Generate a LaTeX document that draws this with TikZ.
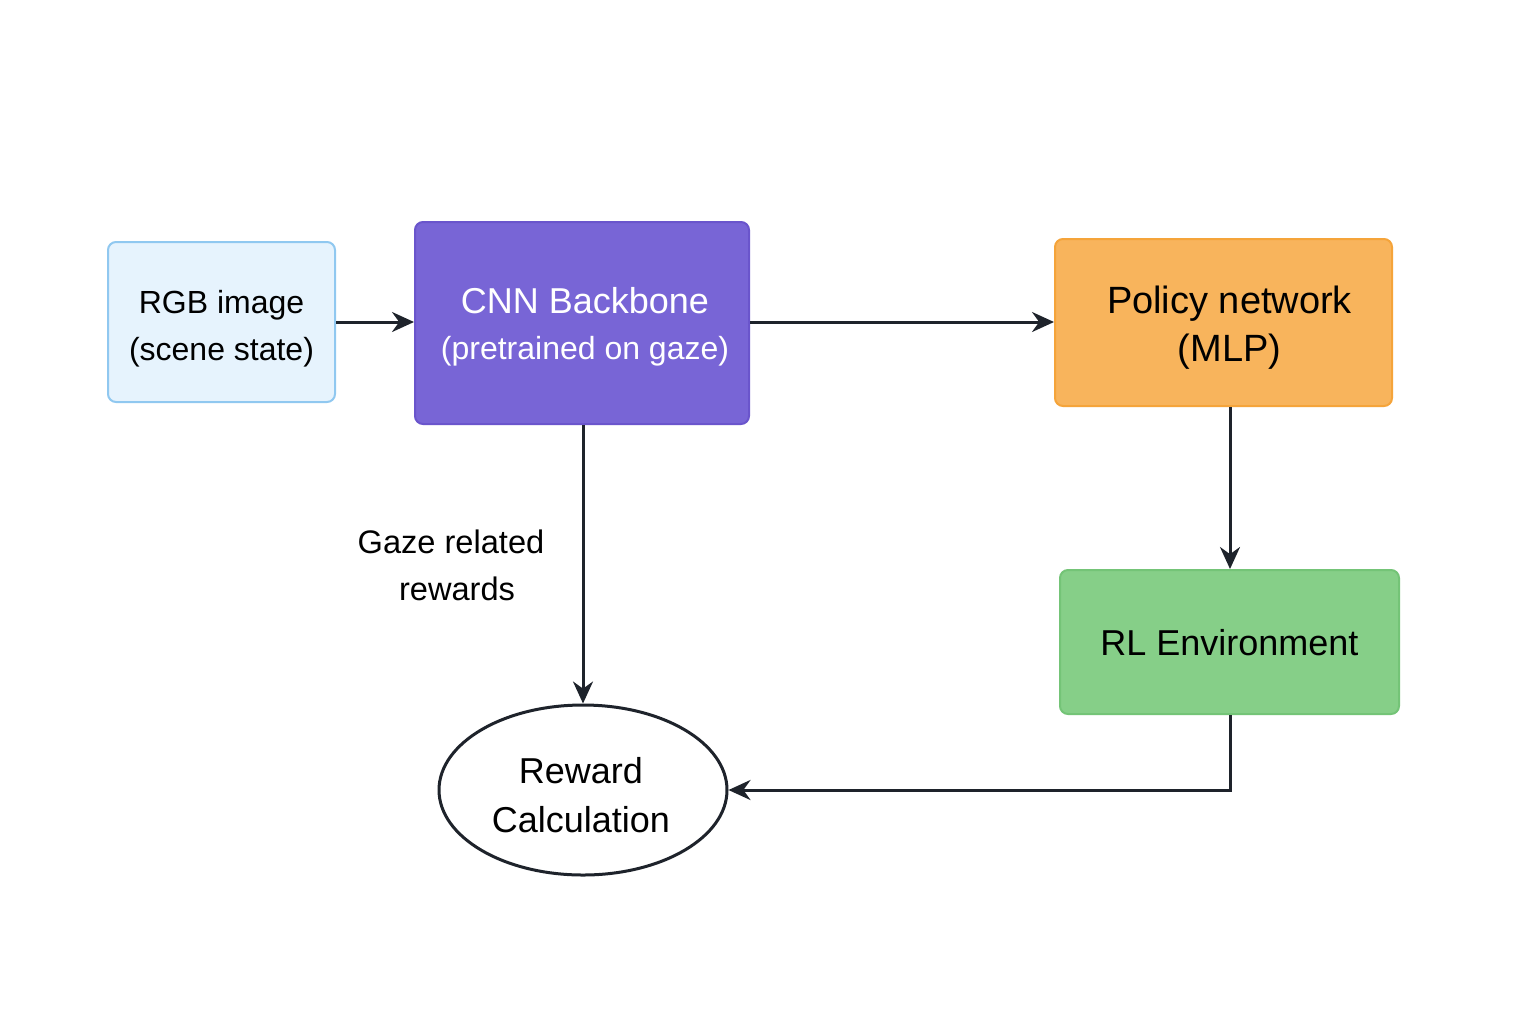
\documentclass[tikz,border=0pt]{standalone}
\usepackage{fontspec}
\setmainfont{Liberation Sans}
\usetikzlibrary{arrows.meta,shapes.geometric}
\definecolor{linec}{HTML}{1E232B}
\definecolor{rgbfill}{HTML}{E6F3FD}
\definecolor{rgbdraw}{HTML}{90C8F0}
\definecolor{cnnfill}{HTML}{7865D6}
\definecolor{cnndraw}{HTML}{6A55CC}
\definecolor{polfill}{HTML}{F8B45C}
\definecolor{poldraw}{HTML}{F5A43A}
\definecolor{envfill}{HTML}{86CF88}
\definecolor{envdraw}{HTML}{74C477}
\tikzset{
  box/.style={rectangle, rounded corners=4pt, line width=1pt, inner sep=0pt},
  txt/.style={align=center, inner sep=0pt, yshift=-3.5pt},
  conn/.style={line width=1.5pt, draw=linec, -{Stealth[length=11pt,width=10pt]}},
}
\begin{document}
\begin{tikzpicture}[x=0.5pt,y=-0.5pt]
\useasboundingbox (0,0) rectangle (1536,1024);
\fill[white] (0,0) rectangle (1536,1024);
\node[box, fill=rgbfill, draw=rgbdraw, minimum width=113.5pt, minimum height=80pt] (rgb) at (221.5,322) {};
\node[txt, font=\fontsize{16}{23.5}\selectfont] (rgbt) at (rgb.center) {RGB image\\(scene state)};
\node[box, fill=cnnfill, draw=cnndraw, minimum width=167pt, minimum height=101pt] (cnn) at (582,323) {};
\node[txt, text=white, font=\fontsize{16}{23}\selectfont, yshift=1.5pt, xshift=1.5pt] (cnnt) at (cnn.center) {{\fontsize{18}{23}\selectfont CNN Backbone}\\(pretrained on gaze)};
\node[box, fill=polfill, draw=poldraw, minimum width=168.5pt, minimum height=83.5pt] (pol) at (1223.5,322.5) {};
\node[txt, font=\fontsize{19}{24}\selectfont, xshift=3pt, yshift=1pt] (polt) at (pol.center) {Policy network\\(MLP)};
\node[box, fill=envfill, draw=envdraw, minimum width=169.5pt, minimum height=72pt] (env) at (1229.5,642) {};
\node[txt, font=\fontsize{18}{24}\selectfont, yshift=3pt] (envt) at (env.center) {RL Environment};
\node[ellipse, draw=linec, line width=1.5pt, fill=white, minimum width=144pt, minimum height=85pt, inner sep=0pt] (rew) at (583,790) {};
\node[txt, font=\fontsize{18}{24.5}\selectfont, xshift=-1pt, yshift=1pt] (rewt) at (rew.center) {Reward\\Calculation};
\node[align=center, font=\fontsize{16.3}{23.5}\selectfont, inner sep=0pt] (lab) at (451,565) {Gaze related\\\hspace*{6pt}rewards};
\draw[conn] (rgb.east) -- (cnn.west |- rgb.east);
\draw[conn] (cnn.east |- rgb.east) -- (pol.west |- rgb.east);
\draw[conn] (cnn.south -| rew.north) -- (rew.north);
\draw[conn] (pol.south -| 1230,0) -- (env.north -| 1230,0);
\draw[conn] (env.south -| 1230,0) |- (rew.east);
\end{tikzpicture}
\end{document}
